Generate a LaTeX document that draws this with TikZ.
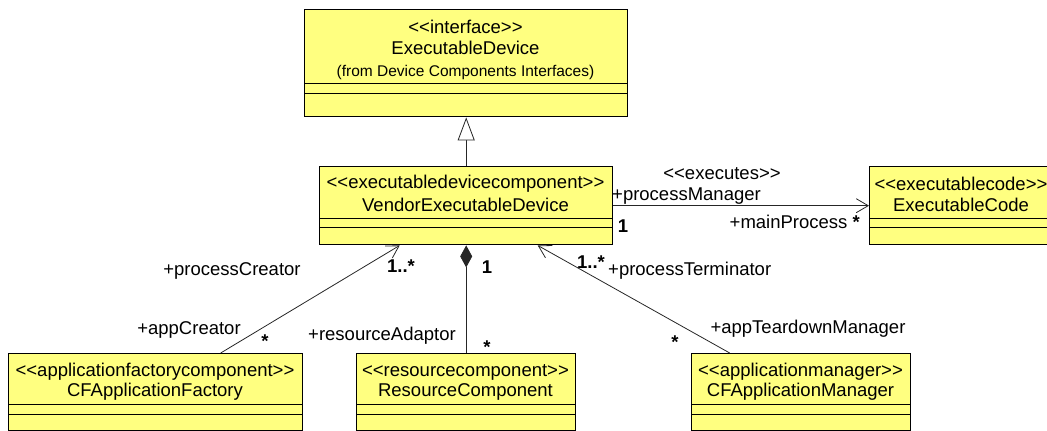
\documentclass[tikz,border=0pt]{standalone}
\usepackage{fontspec}
\setmainfont{Liberation Sans}[Ligatures=TeXOff]
\usetikzlibrary{arrows.meta}
\definecolor{classfill}{RGB}{255,255,128}
\tikzset{
  classbox/.style={draw=black, line width=1.4pt, fill=classfill, rectangle, inner sep=0pt, anchor=north west},
  txt/.style={inner sep=0pt, font=\fontsize{18.5}{22}\selectfont},
  smalltxt/.style={inner sep=0pt, font=\fontsize{15.5}{18}\selectfont},
  mult/.style={inner sep=0pt, font=\fontsize{18.5}{22}\selectfont\bfseries},
  compline/.style={line width=1pt},
  conn/.style={line width=0.8pt, draw=black!85},
  openhead/.style={-{Straight Barb[length=12pt,width=14pt,line width=0.8pt]}},
}
\begin{document}
\begin{tikzpicture}[x=1pt, y=-1pt]
\useasboundingbox (0,0) rectangle (1047,431);
\clip (0,0) rectangle (1047,431);

% class boxes
\node[classbox, minimum width=323pt, minimum height=107pt] (iface) at (304,9) {};
\node[classbox, minimum width=293pt, minimum height=78pt] (ved) at (319,166) {};
\node[classbox, minimum width=184pt, minimum height=78pt] (code) at (869,166) {};
\node[classbox, minimum width=294pt, minimum height=77pt] (fac) at (8,353) {};
\node[classbox, minimum width=219pt, minimum height=77pt] (res) at (356,353) {};
\node[classbox, minimum width=219pt, minimum height=77pt] (mgr) at (691,353) {};

% compartment separators
\draw[compline] (iface.west |- 0,83) -- (iface.east |- 0,83);
\draw[compline] (iface.west |- 0,93) -- (iface.east |- 0,93);
\foreach \b in {ved,code}{
  \draw[compline] (\b.west |- 0,218) -- (\b.east |- 0,218);
  \draw[compline] (\b.west |- 0,227) -- (\b.east |- 0,227);
}
\foreach \b in {fac,res,mgr}{
  \draw[compline] (\b.west |- 0,404) -- (\b.east |- 0,404);
  \draw[compline] (\b.west |- 0,414) -- (\b.east |- 0,414);
}

% class names
\node[txt] (ifaceS) at (465.5,27) {<<interface>>};
\node[txt] (ifaceN) at (465.5,48) {ExecutableDevice};
\node[smalltxt] (ifaceP) at (465.5,72) {(from Device Components Interfaces)};
\node[txt] (vedS) at (465.5,184) {<<executabledevicecomponent>>};
\node[txt] (vedN) at (465.5,205) {VendorExecutableDevice};
\node[txt] (codeS) at (961,184) {<<executablecode>>};
\node[txt] (codeN) at (961,205) {ExecutableCode};
\node[txt] (facS) at (155,372) {<<applicationfactorycomponent>>};
\node[txt] (facN) at (155,392) {CFApplicationFactory};
\node[txt] (resS) at (465.5,372) {<<resourcecomponent>>};
\node[txt] (resN) at (465.5,392) {ResourceComponent};
\node[txt] (mgrS) at (800.5,372) {<<applicationmanager>>};
\node[txt] (mgrN) at (800.5,392) {CFApplicationManager};

% generalization
\draw[conn, -{Triangle[open, fill=white, length=23pt, width=17pt, line width=0.8pt]}] (ved.north) -- (iface.south);

% executes association
\draw[conn, openhead] (ved.east) -- (code.west);
\node[txt] (exeL) at (722,174) {<<executes>>};
\node[txt, anchor=west] (pmL) at (612,196) {+processManager};
\node[mult] (pmM) at (623,226) {1};
\node[txt, anchor=east] (mpL) at (860,222) {+mainProcess \textbf{*}};

% factory association
\draw[conn, openhead] ([xshift=65pt]fac.north) -- ([xshift=-66.5pt]ved.south);
\node[txt] (pcL) at (232,271) {+processCreator};
\node[mult] (pcM) at (401,266) {1..*};
\node[txt] (acL) at (189,330) {+appCreator};
\node[mult] (acM) at (265,341) {*};

% composition
\draw[conn, {Diamond[length=22pt, width=12pt]}-] (ved.south) -- (res.north);
\node[mult] (raM1) at (487,267) {1};
\node[txt] (raL) at (382,336) {+resourceAdaptor};
\node[mult] (raM) at (487,347) {*};

% manager association
\draw[conn, openhead] ([xshift=-71.5pt]mgr.north) -- ([xshift=71.5pt]ved.south);
\node[mult] (ptM) at (591,262) {1..*};
\node[txt, anchor=west] (ptL) at (608,271) {+processTerminator};
\node[txt] (atL) at (808,329) {+appTeardownManager};
\node[mult] (atM) at (675,342) {*};
\end{tikzpicture}
\end{document}
